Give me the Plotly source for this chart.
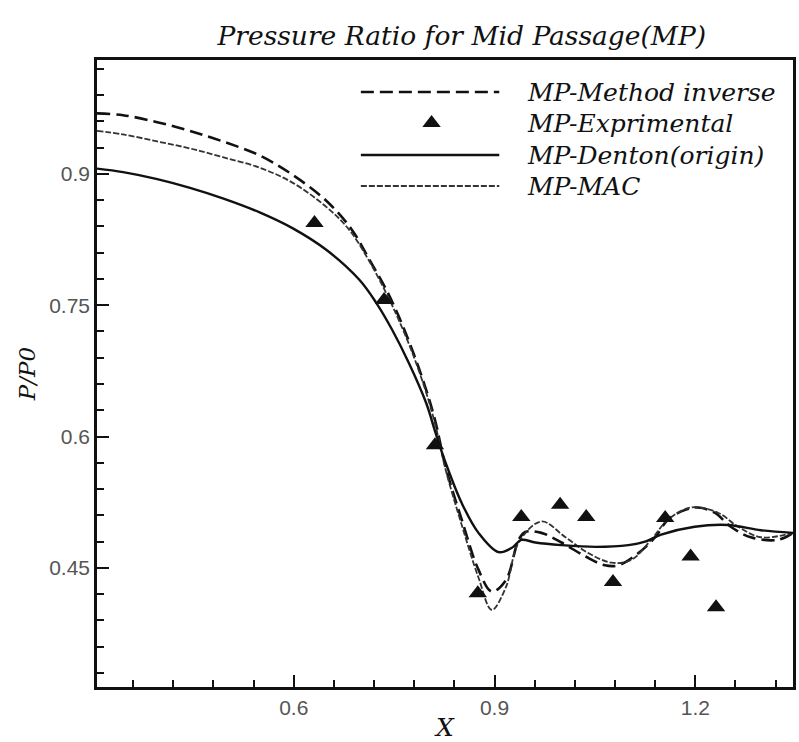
import plotly.graph_objects as go

# Experimental pressure ratio at mid passage
exp_x = [0.631, 0.735, 0.811, 0.875, 0.940, 0.998, 1.037, 1.077, 1.155, 1.193, 1.231]
exp_y = [0.844, 0.756, 0.590, 0.421, 0.508, 0.522, 0.508, 0.434, 0.507, 0.463, 0.405]

# Denton (origin) solution
den_x = [0.306, 0.345, 0.396, 0.445, 0.494, 0.549, 0.598, 0.649, 0.698, 0.723, 0.747,
         0.772, 0.798, 0.812, 0.827, 0.851, 0.876, 0.906, 0.926, 0.940, 0.961, 1.000,
         1.051, 1.100, 1.125, 1.149, 1.199, 1.249, 1.298, 1.346]
den_y = [0.906, 0.902, 0.894, 0.884, 0.872, 0.856, 0.838, 0.813, 0.779, 0.753, 0.722,
         0.684, 0.638, 0.604, 0.570, 0.524, 0.490, 0.468, 0.473, 0.482, 0.479, 0.476,
         0.474, 0.476, 0.480, 0.488, 0.497, 0.499, 0.493, 0.490]

# Inverse method solution
inv_x = [0.306, 0.345, 0.396, 0.445, 0.494, 0.549, 0.598, 0.649, 0.687, 0.713, 0.738,
         0.757, 0.777, 0.798, 0.812, 0.827, 0.851, 0.876, 0.896, 0.917, 0.936, 0.946,
         0.970, 1.000, 1.036, 1.065, 1.085, 1.115, 1.140, 1.159, 1.184, 1.204, 1.229,
         1.253, 1.283, 1.323, 1.346]
inv_y = [0.969, 0.967, 0.959, 0.949, 0.937, 0.921, 0.899, 0.869, 0.836, 0.802, 0.768,
         0.737, 0.699, 0.653, 0.616, 0.565, 0.505, 0.448, 0.423, 0.436, 0.482, 0.491,
         0.490, 0.479, 0.463, 0.453, 0.453, 0.467, 0.485, 0.505, 0.516, 0.519, 0.513,
         0.497, 0.485, 0.482, 0.490]

# MAC solution
mac_x = [0.306, 0.345, 0.396, 0.445, 0.494, 0.549, 0.598, 0.649, 0.683, 0.713, 0.738,
         0.757, 0.777, 0.798, 0.812, 0.827, 0.851, 0.876, 0.896, 0.917, 0.936, 0.970,
         1.006, 1.040, 1.075, 1.104, 1.134, 1.159, 1.194, 1.234, 1.264, 1.298, 1.346]
mac_y = [0.949, 0.945, 0.937, 0.929, 0.919, 0.907, 0.890, 0.862, 0.836, 0.800, 0.764,
         0.733, 0.696, 0.650, 0.612, 0.562, 0.499, 0.439, 0.402, 0.428, 0.479, 0.503,
         0.485, 0.467, 0.456, 0.459, 0.482, 0.505, 0.519, 0.513, 0.497, 0.485, 0.490]

legend_names = ["MP-Method inverse", "MP-Exprimental", "MP-Denton(origin)", "MP-MAC"]
x_ticks = [0.6, 0.9, 1.2]
y_ticks = [0.45, 0.6, 0.75, 0.9]

INK = "#111111"
SERIF = "DejaVu Serif, serif"
SANS = "Liberation Sans, Arial, sans-serif"

DASH_INV = dict(color=INK, width=2.6, dash="13px,6px")
DASH_MAC = dict(color="#333333", width=1.8, dash="6px,2px")
SOLID = dict(color=INK, width=2.4)

fig = go.Figure()

fig.add_trace(go.Scatter(x=inv_x, y=inv_y, mode="lines", line_shape="spline",
                         line=DASH_INV, showlegend=False))
fig.add_trace(go.Scatter(x=mac_x, y=mac_y, mode="lines", line_shape="spline",
                         line=DASH_MAC, showlegend=False))
fig.add_trace(go.Scatter(x=den_x, y=den_y, mode="lines", line_shape="spline",
                         line=SOLID, showlegend=False))
fig.add_trace(go.Scatter(x=exp_x, y=exp_y, mode="markers",
                         marker=dict(symbol="triangle-up", size=16, color=INK),
                         showlegend=False))

# Legend block drawn on an overlay axis measured in plot pixels
LX0, LX1, TX = 265, 404, 430
rows = [32, 63, 95, 126]
for ry, style in ((rows[0], DASH_INV), (rows[2], SOLID), (rows[3], DASH_MAC)):
    fig.add_trace(go.Scatter(x=[LX0, LX1], y=[ry, ry], mode="lines", xaxis="x2", yaxis="y2",
                             line=style, showlegend=False, hoverinfo="skip"))
fig.add_trace(go.Scatter(x=[336], y=[rows[1]], mode="markers", xaxis="x2", yaxis="y2",
                         marker=dict(symbol="triangle-up", size=16, color=INK),
                         showlegend=False, hoverinfo="skip"))
for name, ry in zip(legend_names, rows):
    fig.add_annotation(x=TX, y=ry, xref="x2", yref="y2", text=name, showarrow=False,
                       xanchor="left", yanchor="middle",
                       font=dict(family=SERIF, size=25, color=INK, style="italic"))

axis_common = dict(showline=True, linecolor=INK, linewidth=2.5, mirror=True,
                   ticks="inside", tickcolor=INK, tickwidth=2, showgrid=False, zeroline=False,
                   tickfont=dict(family=SANS, size=21, color="#555555"))

fig.update_layout(
    width=799, height=742,
    margin=dict(l=97, r=3, t=60, b=55),
    paper_bgcolor="white", plot_bgcolor="white",
    title=dict(text="Pressure Ratio for Mid Passage(MP)", x=0.578, xanchor="center",
               y=0.952, yanchor="middle",
               font=dict(family=SERIF, size=26.5, color=INK, style="italic")),
    xaxis=dict(range=[0.306, 1.346], tickvals=x_ticks, ticklen=12,
               minor=dict(dtick=0.06, tick0=0.6, ticks="inside", ticklen=7, tickcolor=INK, tickwidth=1.6),
               title=dict(text="X", standoff=2,
                          font=dict(family=SERIF, size=25, color=INK, style="italic")),
               **axis_common),
    yaxis=dict(range=[0.314, 1.030], tickvals=y_ticks, ticklen=12,
               minor=dict(dtick=0.03, tick0=0.45, ticks="inside", ticklen=7, tickcolor=INK, tickwidth=1.6),
               title=dict(text="P/P0", standoff=8,
                          font=dict(family=SERIF, size=23, color=INK, style="italic")),
               **axis_common),
    xaxis2=dict(range=[0, 699], overlaying="x", visible=False, fixedrange=True),
    yaxis2=dict(range=[627, 0], overlaying="y", visible=False, fixedrange=True),
)

fig.write_html("out.html")
